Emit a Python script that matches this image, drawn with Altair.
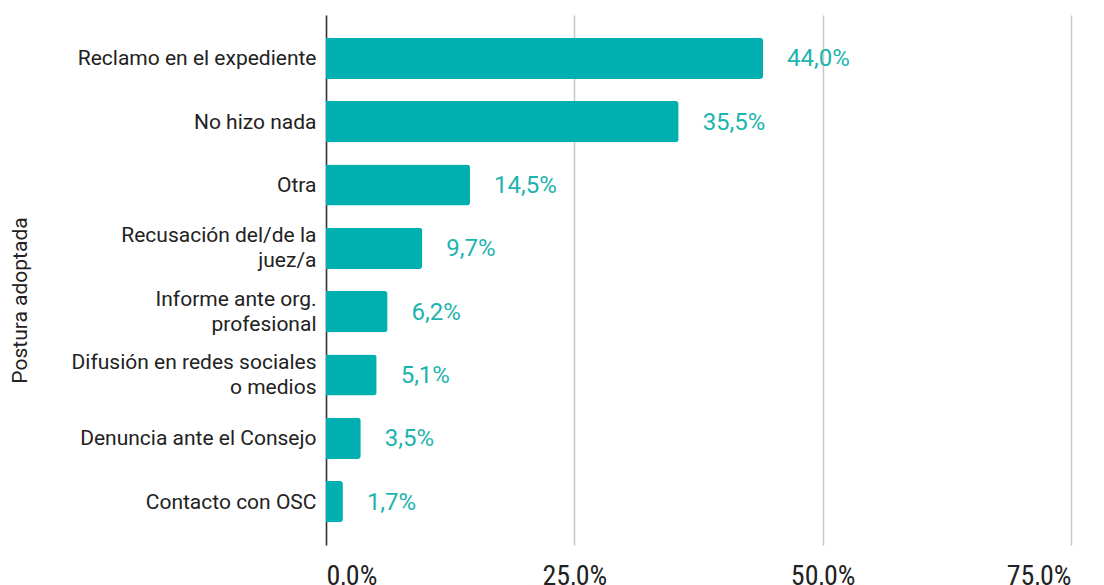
import altair as alt
import pandas as pd

categories = [
    "Reclamo en el expediente",
    "No hizo nada",
    "Otra",
    "Recusación del/de la|juez/a",
    "Informe ante org.|profesional",
    "Difusión en redes sociales|o medios",
    "Denuncia ante el Consejo",
    "Contacto con OSC",
]
values = [44.0, 35.5, 14.5, 9.7, 6.2, 5.1, 3.5, 1.7]
x_ticks = [0, 25, 50, 75]

df = pd.DataFrame({"postura": categories, "valor": values})

BAR = "#00B0B0"
TXT = "#1DB3AE"

y_enc = alt.Y(
    "postura:N",
    sort=categories,
    scale=alt.Scale(paddingInner=0.35, paddingOuter=0.36),
    axis=alt.Axis(
        title="Postura adoptada",
        titleFont="Roboto",
        titleFontSize=21,
        titleFontWeight="normal",
        titleColor="#222222",
        titleAngle=-90,
        titleX=-306,
        titleY=285,
        titleAlign="center",
        titleBaseline="middle",
        labelExpr="split(datum.value, '|')",
        labelFont="Roboto",
        labelFontSize=21,
        labelColor="#222222",
        labelPadding=10,
        labelLineHeight=25,
        labelLimit=400,
        labelOffset={
            "condition": {"test": "indexof(datum.value, '|') >= 0", "value": -12},
            "value": 1,
        },
        ticks=False,
        domain=True,
        domainColor="#333333",
        domainWidth=1.5,
        grid=False,
    ),
)

x_enc = alt.X(
    "valor:Q",
    scale=alt.Scale(domain=[0, 75], nice=False),
    axis=alt.Axis(
        title=None,
        values=x_ticks,
        labelExpr="replace(format(datum.value, '.1f'), '.', ',') + '%'",
        labelFont="Liberation Sans Narrow, Roboto Condensed, Roboto",
        labelFontSize=28,
        labelColor="#222222",
        labelPadding=17,
        ticks=False,
        domain=False,
        grid=True,
        gridColor="#C8C8C8",
        gridWidth=1.5,
    ),
)

base = alt.Chart(df)

bars = base.mark_bar(color=BAR, cornerRadiusEnd=3).encode(y=y_enc, x=x_enc)

labels = base.mark_text(
    align="left", baseline="middle", dx=24, dy=1, color=TXT, font="Roboto", fontSize=24
).encode(
    y=alt.Y("postura:N", sort=categories),
    x="valor:Q",
    text=alt.Text("lbl:N"),
).transform_calculate(lbl="replace(format(datum.valor, '.1f'), '.', ',') + '%'")

chart = (
    alt.layer(bars, labels)
    .properties(
        width=745,
        height=530,
        padding={"left": 318, "top": 7, "right": 25, "bottom": 40},
        autosize="none",
        background="white",
    )
    .configure_view(stroke=None)
)

chart.save("out.html", embed_options={"renderer": "svg", "actions": False})
